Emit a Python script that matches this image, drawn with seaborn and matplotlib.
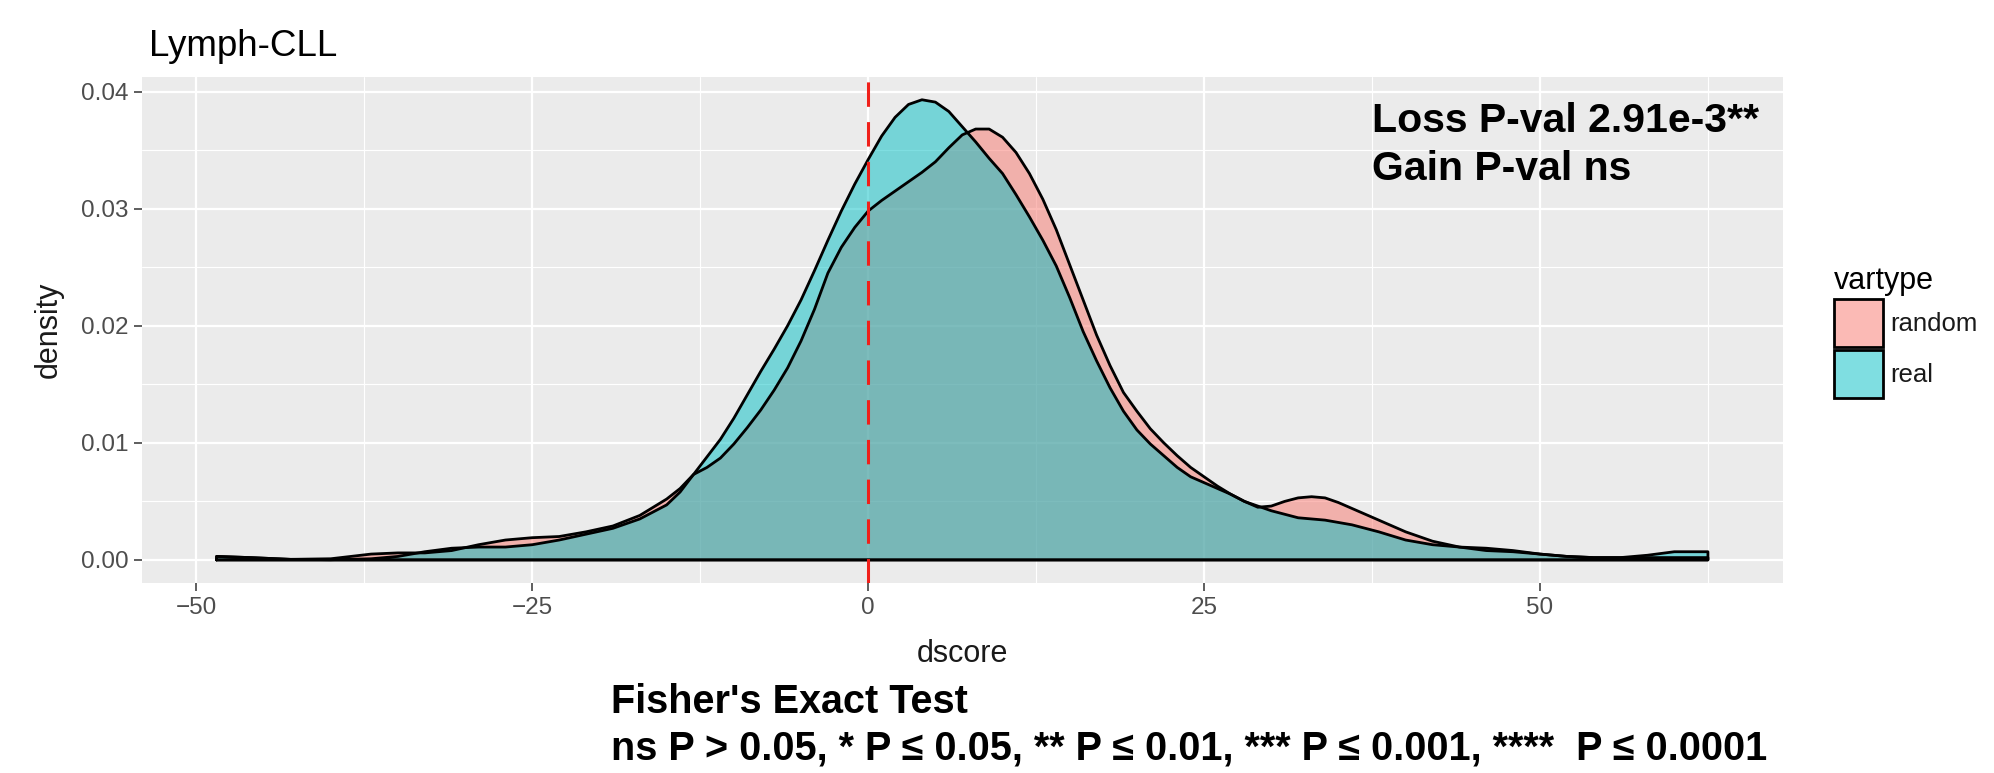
import matplotlib
matplotlib.use("Agg")
import numpy as np
import pandas as pd
import matplotlib.pyplot as plt
import seaborn as sns
from matplotlib.colors import to_rgba
from matplotlib.patches import Patch
from matplotlib.ticker import MultipleLocator, FormatStrFormatter

# density curves
dscore = [-48.5, -46, -43, -40, -37, -35, -33, -31, -29, -27, -25, -23, -21, -19, -17, -15,
          -14, -13, -12, -11, -10, -9, -8, -7, -6, -5, -4, -3, -2, -1,
          0, 1, 2, 3, 4, 5, 6, 7, 8, 9, 10, 11, 12, 13, 14, 15, 16, 17, 18, 19,
          20, 21, 22, 23, 24, 25, 26, 27, 28, 29, 30, 31, 32, 33, 34, 35, 36,
          38, 40, 42, 44, 46, 48, 50, 52, 54, 56, 58, 60, 62.5]

density_random = [0.0003, 0.0002, 0.00005, 0.0001, 0.0005, 0.0006, 0.0006, 0.0008, 0.0013, 0.0017,
                  0.0019, 0.0020, 0.0024, 0.0029, 0.0038, 0.0052,
                  0.0061, 0.0073, 0.0079, 0.0087, 0.0099, 0.0113, 0.0128, 0.0145, 0.0164, 0.0187,
                  0.0214, 0.0245, 0.0267, 0.0284,
                  0.0298, 0.0307, 0.0315, 0.0323, 0.0331, 0.0340, 0.0352, 0.0363, 0.0368, 0.0368,
                  0.0361, 0.0348, 0.0330, 0.0308, 0.0282, 0.0252, 0.0222, 0.0192, 0.0166, 0.0143,
                  0.0127, 0.0112, 0.0100, 0.0089, 0.0079, 0.0071, 0.0063, 0.0056, 0.0050, 0.0045,
                  0.0046, 0.0050, 0.0053, 0.0054, 0.0053, 0.0049, 0.0044,
                  0.0034, 0.0024, 0.0016, 0.0011, 0.0008, 0.0007, 0.0005, 0.0003, 0.0002, 0.0002,
                  0.0002, 0.0002, 0.0002]

density_real = [0.0003, 0.0002, 0.00005, 0.00002, 0.0001, 0.0003, 0.0007, 0.0010, 0.0011, 0.0011,
                0.0013, 0.0017, 0.0022, 0.0027, 0.0035, 0.0047,
                0.0058, 0.0073, 0.0088, 0.0103, 0.0121, 0.0141, 0.0161, 0.0180, 0.0200, 0.0222,
                0.0247, 0.0273, 0.0298, 0.0321,
                0.0342, 0.0362, 0.0378, 0.0389, 0.0393, 0.0391, 0.0383, 0.0370, 0.0357, 0.0343,
                0.0330, 0.0312, 0.0293, 0.0273, 0.0251, 0.0224, 0.0195, 0.0170, 0.0147, 0.0127,
                0.0111, 0.0099, 0.0089, 0.0079, 0.0071, 0.0066, 0.0061, 0.0056, 0.0050, 0.0046,
                0.0042, 0.0039, 0.0036, 0.0035, 0.0034, 0.0032, 0.0030,
                0.0024, 0.0017, 0.0013, 0.0011, 0.0010, 0.0008, 0.0005, 0.0003, 0.0002, 0.0002,
                0.0004, 0.0007, 0.0007]

vartypes = ["random", "real"]
palette = {"random": "#F8766D", "real": "#00BFC4"}
x_ticks = [-50, -25, 0, 25, 50]
y_ticks = [0.00, 0.01, 0.02, 0.03, 0.04]

n = len(dscore)
df = pd.DataFrame({
    "dscore": dscore * 2,
    "density": density_random + density_real,
    "vartype": ["random"] * n + ["real"] * n,
})

sns.set_theme(style="darkgrid", rc={
    "axes.facecolor": "#EBEBEB",
    "figure.facecolor": "white",
    "axes.axisbelow": True,
    "xtick.bottom": True,
    "ytick.left": True,
    "text.color": "black",
    "axes.labelcolor": "black",
})
plt.rcParams["font.family"] = ["Liberation Sans", "DejaVu Sans"]

fig = plt.figure(figsize=(19.94, 7.73), dpi=100)
ax = fig.add_axes([142 / 1994, 1 - 583 / 773, (1782.5 - 142) / 1994, (583 - 76.7) / 773])

for vt in vartypes:
    sub = df[df["vartype"] == vt]
    ax.fill_between(sub["dscore"], sub["density"], color=to_rgba(palette[vt], 0.5), linewidth=0)
    # closed outline: curve plus baseline, like ggplot's density polygon
    xs = [sub["dscore"].iloc[0]] + list(sub["dscore"]) + [sub["dscore"].iloc[-1], sub["dscore"].iloc[0]]
    ys = [0] + list(sub["density"]) + [0, 0]
    sns.lineplot(x=xs, y=ys, sort=False, estimator=None, color="black", linewidth=2.0, ax=ax)

ax.axvline(0, color="#F0201A", linestyle=(0, (8, 5)), linewidth=2.2)

ax.set_xlim(-54.05, 68.05)
ax.set_ylim(-0.00197, 0.04127)
ax.set_xticks(x_ticks)
ax.set_yticks(y_ticks)
ax.yaxis.set_major_formatter(FormatStrFormatter("%.2f"))
ax.xaxis.set_minor_locator(MultipleLocator(12.5))
ax.yaxis.set_minor_locator(MultipleLocator(0.005))
ax.grid(which="major", color="white", linewidth=1.6)
ax.grid(which="minor", color="white", linewidth=0.8)
ax.tick_params(which="major", length=5.5, width=1.1, color="#333333",
               labelsize=17.5, labelcolor="#4D4D4D", pad=4.4)
ax.tick_params(which="minor", length=0)
for s in ax.spines.values():
    s.set_visible(False)

ax.set_xlabel("dscore", fontsize=22, color="#1A1A1A", labelpad=14.5)
ax.set_ylabel("density", fontsize=22, color="#1A1A1A", labelpad=12)

ax.text(37.5, 0.03656, "Loss P-val 2.91e-3**", fontsize=29.5, fontweight="bold", va="baseline")
ax.text(37.5, 0.03241, "Gain P-val ns", fontsize=29.5, fontweight="bold", va="baseline")

fig.text(149 / 1994, 1 - 56 / 773, "Lymph-CLL", fontsize=26.5, va="baseline")
fig.text(611 / 1994, 1 - 713 / 773, "Fisher's Exact Test", fontsize=28.5, fontweight="bold", va="baseline")
fig.text(611 / 1994, 1 - 759 / 773,
         "ns P > 0.05, * P \u2264 0.05, ** P \u2264 0.01, *** P \u2264 0.001, ****  P \u2264 0.0001",
         fontsize=28.5, fontweight="bold", va="baseline")

handles = [Patch(facecolor=to_rgba(palette[vt], 0.5), edgecolor="black", linewidth=2.0, label=vt)
           for vt in vartypes]
fig.legend(handles=handles, title="vartype", loc="upper left",
           bbox_to_anchor=(1834 / 1994, 1 - 266 / 773), frameon=False,
           fontsize=18.5, title_fontsize=22, handlelength=1.9, handleheight=2.5,
           handletextpad=0.3, labelspacing=0.12, borderpad=0, borderaxespad=0,
           alignment="left", labelcolor="#1A1A1A")

fig.savefig("out.png", dpi=100)
